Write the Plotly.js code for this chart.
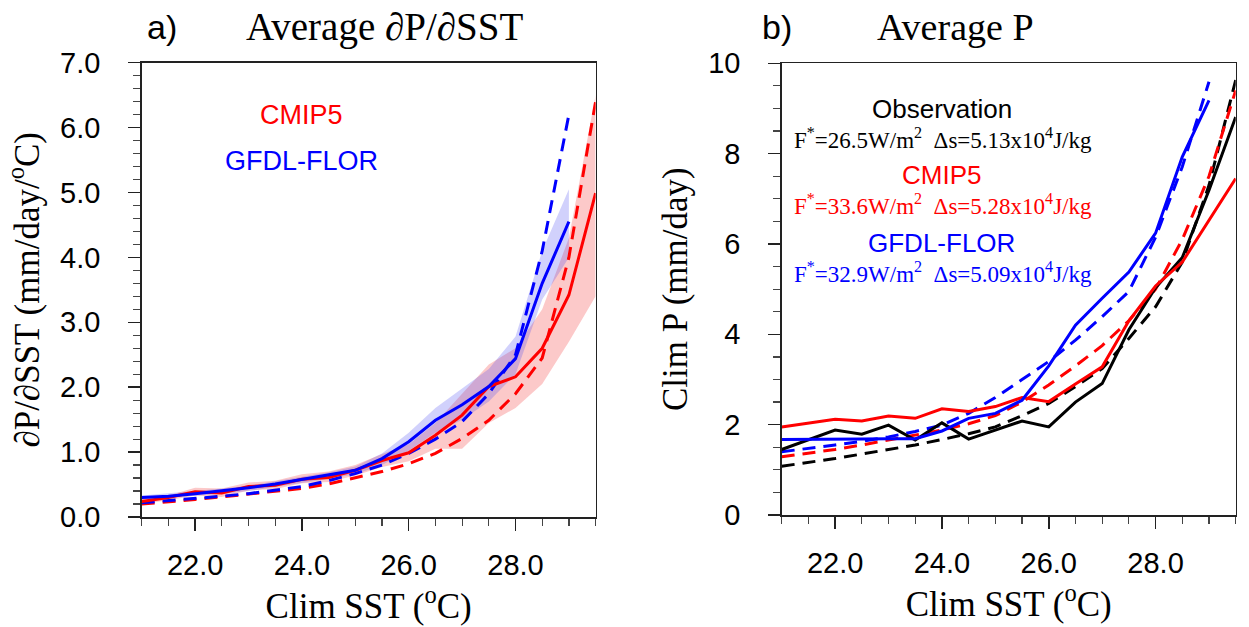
<!DOCTYPE html>
<html>
<head>
<meta charset="utf-8">
<script src="https://cdn.plot.ly/plotly-3.0.1.min.js"></script>
<style>html,body{margin:0;padding:0;background:#fff;}#chart{width:1249px;height:627px;}</style>
</head>
<body>
<div id="chart"></div>
<script>
// ---------- data ----------
const sst = [21,21.5,22,22.5,23,23.5,24,24.5,25,25.5,26,26.5,27,27.5,28,28.5,29,29.5];
const sstFlor = [21,21.5,22,22.5,23,23.5,24,24.5,25,25.5,26,26.5,27,27.5,28,28.5,29];

// panel a: dP/dSST (mm/day/oC)
const cmipSlope     = [0.24,0.30,0.39,0.37,0.47,0.49,0.58,0.61,0.72,0.87,0.99,1.26,1.57,2.01,2.16,2.60,3.42,4.99];
const cmipSlopeFit  = [0.20,0.23,0.27,0.31,0.35,0.39,0.44,0.51,0.60,0.70,0.82,0.98,1.21,1.49,1.90,2.45,4.00,6.40];
const cmipSlopeHi   = [0.28,0.33,0.45,0.44,0.53,0.56,0.66,0.70,0.80,0.97,1.12,1.45,1.90,2.35,2.60,3.20,4.30,6.50];
const cmipSlopeLo   = [0.20,0.26,0.33,0.31,0.41,0.43,0.52,0.54,0.64,0.77,0.86,1.05,1.05,1.45,1.68,2.05,2.70,3.40];
const florSlope     = [0.30,0.32,0.36,0.40,0.45,0.51,0.58,0.64,0.72,0.90,1.16,1.49,1.73,2.01,2.44,3.60,4.55];
const florSlopeFit  = [0.22,0.25,0.28,0.32,0.36,0.41,0.47,0.56,0.67,0.80,0.98,1.20,1.47,1.90,2.50,4.10,6.20];
const florSlopeHi   = [0.33,0.36,0.40,0.44,0.48,0.55,0.62,0.69,0.78,0.98,1.30,1.68,1.98,2.28,2.78,4.10,5.05];
const florSlopeLo   = [0.27,0.29,0.33,0.36,0.40,0.46,0.53,0.59,0.66,0.80,1.02,1.30,1.50,1.78,2.20,3.35,4.00];

// panel b: climatological P (mm/day)
const obsP      = [1.45,1.67,1.88,1.79,1.99,1.66,2.04,1.68,1.88,2.08,1.95,2.50,2.91,4.10,5.03,5.70,7.19,8.81];
const obsPFit   = [1.08,1.16,1.25,1.35,1.45,1.55,1.67,1.80,1.95,2.20,2.47,2.84,3.24,3.91,4.61,5.60,7.30,9.63];
const cmipP     = [1.95,2.03,2.12,2.08,2.19,2.14,2.35,2.29,2.40,2.60,2.51,2.90,3.28,4.30,5.07,5.60,6.53,7.45];
const cmipPFit  = [1.29,1.37,1.45,1.55,1.66,1.77,1.88,2.02,2.20,2.50,2.88,3.30,3.75,4.30,5.00,6.10,7.50,9.40];
const florP     = [1.67,1.67,1.68,1.68,1.69,1.69,1.86,2.14,2.25,2.54,3.30,4.20,4.80,5.38,6.24,7.93,9.18];
const florPFit  = [1.40,1.47,1.55,1.63,1.73,1.85,1.99,2.25,2.60,3.00,3.40,3.87,4.39,4.95,6.15,7.71,9.59];

const xTickVals = [22,24,26,28];
const xTickText = ['22.0','24.0','26.0','28.0'];
const yaTickVals = [0,1,2,3,4,5,6,7];
const yaTickText = ['0.0','1.0','2.0','3.0','4.0','5.0','6.0','7.0'];
const ybTickVals = [0,2,4,6,8,10];

// ---------- helpers ----------
const W = 1249, H = 627;
const PX = x => x / W;
const PY = y => 1 - y / H;
const RED = '#ff0000', BLUE = '#0000ff', BLACK = '#000000';
const DASH = '13px,8px';
const SANS = 'Liberation Sans, Arial, sans-serif';
const SERIF = 'Liberation Serif, Times New Roman, serif';
function band(xs, hi, lo, color, xa, ya) {
  return {x: xs.concat(xs.slice().reverse()), y: hi.concat(lo.slice().reverse()),
    type: 'scatter', mode: 'lines', fill: 'toself', fillcolor: color,
    line: {width: 0}, hoverinfo: 'skip', xaxis: xa, yaxis: ya};
}
function line(xs, ys, color, dash, xa, ya) {
  return {x: xs, y: ys, type: 'scatter', mode: 'lines',
    line: {color: color, width: 3, dash: dash}, xaxis: xa, yaxis: ya};
}

const traces = [
  band(sst, cmipSlopeHi, cmipSlopeLo, 'rgba(245,60,60,0.28)', 'x', 'y'),
  band(sstFlor, florSlopeHi, florSlopeLo, 'rgba(70,70,245,0.25)', 'x', 'y'),
  line(sst, cmipSlopeFit, RED, DASH, 'x', 'y'),
  line(sstFlor, florSlopeFit, BLUE, DASH, 'x', 'y'),
  line(sst, cmipSlope, RED, 'solid', 'x', 'y'),
  line(sstFlor, florSlope, BLUE, 'solid', 'x', 'y'),

  line(sst, obsPFit, BLACK, DASH, 'x2', 'y2'),
  line(sst, cmipPFit, RED, DASH, 'x2', 'y2'),
  line(sstFlor, florPFit, BLUE, DASH, 'x2', 'y2'),
  line(sst, obsP, BLACK, 'solid', 'x2', 'y2'),
  line(sst, cmipP, RED, 'solid', 'x2', 'y2'),
  line(sstFlor, florP, BLUE, 'solid', 'x2', 'y2')
];

const tickFont = {family: SANS, size: 29, color: '#000'};
const titleFont = {family: SERIF, size: 35, color: '#000'};
const common = {ticks: 'outside', ticklen: 12, tickwidth: 1.5, tickcolor: '#222',
  showline: true, linecolor: '#222', linewidth: 1.5, showgrid: false, zeroline: false};
function minor(t0, d) {
  return {tick0: t0, dtick: d, ticks: 'outside', ticklen: 7, tickwidth: 1.2, tickcolor: '#444', showgrid: false};
}
function xAxis(domain, anchor) {
  return Object.assign({}, common, {domain: domain, anchor: anchor, range: [21, 29.5], tickmode: 'array',
    tickvals: xTickVals, ticktext: xTickText, mirror: true,
    tickfont: tickFont, ticklabelstandoff: 10, minor: minor(21, 0.5),
    title: {text: 'Clim SST (<sup>o</sup>C)', font: titleFont, standoff: 12}});
}
function xTop(domain, anchor, over) {
  return Object.assign({}, common, {domain: domain, anchor: anchor, overlaying: over, side: 'top',
    range: [21, 29.5], tickmode: 'array', tickvals: xTickVals, showticklabels: false, minor: minor(21, 0.5)});
}
function yRight(domain, anchor, over, range, vals, mdt) {
  return Object.assign({}, common, {domain: domain, anchor: anchor, overlaying: over, side: 'right',
    range: range, tickmode: 'array', tickvals: vals, showticklabels: false, minor: minor(0, mdt)});
}
const domXa = [PX(141.7), PX(595.6)], domXb = [PX(781.7), PX(1235.7)];
const domYa = [PY(517), PY(62.7)], domYb = [PY(515), PY(63.3)];

function ann(text, x, y, anchor, font) {
  return {text: text, x: PX(x), y: PY(y), xref: 'paper', yref: 'paper', xanchor: anchor, yanchor: 'middle',
    showarrow: false, font: font};
}

const layout = {
  width: W, height: H, margin: {l: 0, r: 0, t: 0, b: 0},
  paper_bgcolor: '#fff', plot_bgcolor: '#fff', showlegend: false,
  xaxis: xAxis(domXa, 'y'),
  xaxis2: xAxis(domXb, 'y2'),
  xaxis3: xTop(domXa, 'y', 'x'),
  xaxis4: xTop(domXb, 'y2', 'x2'),
  yaxis: Object.assign({}, common, {domain: domYa, anchor: 'x', range: [0, 7], tickmode: 'array',
    tickvals: yaTickVals, ticktext: yaTickText, mirror: true, tickfont: tickFont, ticklabelstandoff: 22,
    minor: minor(0, 0.2),
    title: {text: '\u2202P/\u2202SST (mm/day/<sup>o</sup>C)', font: titleFont, standoff: 10}}),
  yaxis2: Object.assign({}, common, {domain: domYb, anchor: 'x2', range: [0, 10], tickmode: 'array',
    tickvals: ybTickVals, mirror: true, tickfont: tickFont, ticklabelstandoff: 22,
    minor: minor(0, 0.5),
    title: {text: 'Clim P (mm/day)', font: titleFont, standoff: 10}}),
  yaxis3: yRight(domYa, 'x', 'y', [0, 7], yaTickVals, 0.2),
  yaxis4: yRight(domYb, 'x2', 'y2', [0, 10], ybTickVals, 0.5),
  annotations: [
    ann('a)', 145, 27, 'left', {family: SANS, size: 34, color: '#000'}),
    ann('Average \u2202P/\u2202SST', 384, 27, 'center', {family: SERIF, size: 39, color: '#000'}),
    ann('b)', 760, 27, 'left', {family: SANS, size: 34, color: '#000'}),
    ann('Average P', 955, 27, 'center', {family: SERIF, size: 38, color: '#000'}),

    ann('CMIP5', 301.7, 115, 'center', {family: SANS, size: 27, color: RED}),
    ann('GFDL-FLOR', 301.7, 160.7, 'center', {family: SANS, size: 27, color: BLUE}),

    ann('Observation', 941.7, 109, 'center', {family: SANS, size: 26, color: BLACK}),
    ann('F<sup>*</sup>=26.5W/m<sup>2</sup>\u00a0\u00a0\u0394s=5.13x10<sup>4</sup>J/kg', 791.7, 138, 'left', {family: SERIF, size: 23, color: BLACK}),
    ann('CMIP5', 941.7, 175, 'center', {family: SANS, size: 26, color: RED}),
    ann('F<sup>*</sup>=33.6W/m<sup>2</sup>\u00a0\u00a0\u0394s=5.28x10<sup>4</sup>J/kg', 791.7, 205, 'left', {family: SERIF, size: 23, color: RED}),
    ann('GFDL-FLOR', 941.7, 243, 'center', {family: SANS, size: 26, color: BLUE}),
    ann('F<sup>*</sup>=32.9W/m<sup>2</sup>\u00a0\u00a0\u0394s=5.09x10<sup>4</sup>J/kg', 791.7, 273, 'left', {family: SERIF, size: 23, color: BLUE})
  ]
};

Plotly.newPlot('chart', traces, layout, {staticPlot: true, displayModeBar: false});
</script>
</body>
</html>
